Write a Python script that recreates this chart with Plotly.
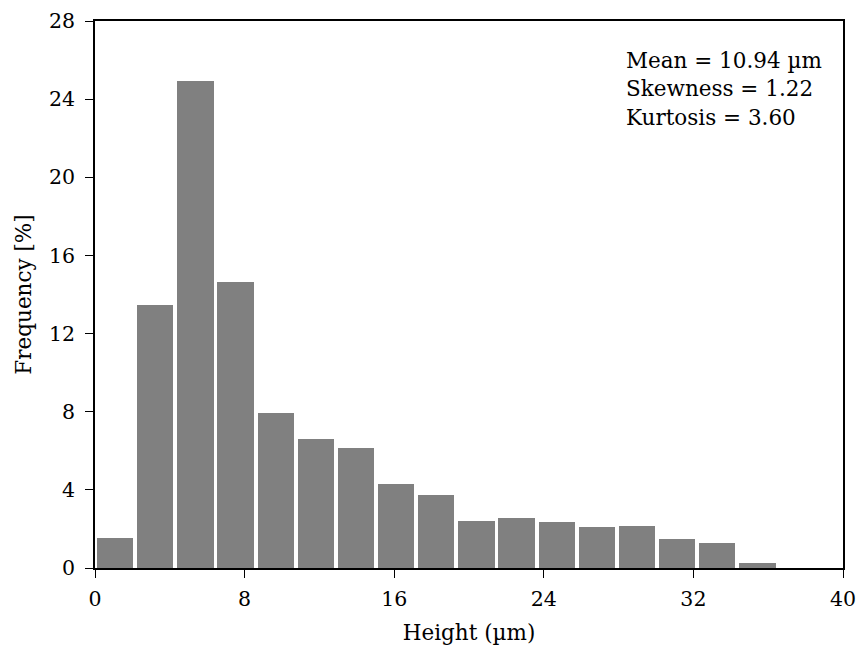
import numpy as np
import plotly.graph_objects as go

# Histogram definition (17 bins)
bin_min = 0.0
bin_max = 36.5
n_bins = 17
frequency = [1.56, 13.46, 24.92, 14.63, 7.94, 6.61, 6.15, 4.32, 3.75,
             2.43, 2.58, 2.37, 2.12, 2.17, 1.51, 1.30, 0.28]
x_ticks = [0, 8, 16, 24, 32, 40]
y_ticks = [0, 4, 8, 12, 16, 20, 24, 28]
stats_lines = ["Mean = 10.94 µm", "Skewness = 1.22", "Kurtosis = 3.60"]

edges = np.linspace(bin_min, bin_max, n_bins + 1)
centers = (edges[:-1] + edges[1:]) / 2
bw = edges[1] - edges[0]

FONT = "DejaVu Serif"
TICK_SIZE = 20.5
TEXT_SIZE = 21.5

fig = go.Figure()
fig.add_trace(go.Bar(x=centers, y=frequency, width=bw * 0.905,
                     marker=dict(color="#808080", line=dict(width=0)),
                     showlegend=False))

axis_common = dict(showline=True, linecolor="black", linewidth=1.6, mirror=True,
                   ticks="outside", ticklen=8, tickwidth=1.4, tickcolor="black",
                   showgrid=False, zeroline=False, automargin=False,
                   tickfont=dict(family=FONT, size=TICK_SIZE, color="black"))

fig.update_xaxes(range=[0, 40], tickvals=x_ticks, ticktext=[str(v) for v in x_ticks],
                 ticklabelstandoff=4,
                 title=dict(text="Height (µm)", font=dict(family=FONT, size=TEXT_SIZE, color="black"),
                            standoff=15),
                 **axis_common)
fig.update_yaxes(range=[0, 28], tickvals=y_ticks, ticktext=[str(v) for v in y_ticks],
                 ticklabelstandoff=6,
                 title=dict(text="Frequency [%]", font=dict(family=FONT, size=TEXT_SIZE, color="black"),
                            standoff=11),
                 **axis_common)

line_px = [60.5, 88.8, 117.1]
for txt, p in zip(stats_lines, line_px):
    fig.add_annotation(text=txt, xref="paper", yref="paper",
                       x=(624 - 95) / 748, y=(568.5 - p) / 547.5,
                       xanchor="left", yanchor="middle", showarrow=False,
                       font=dict(family=FONT, size=TEXT_SIZE, color="black"))

fig.update_layout(width=861, height=650,
                  margin=dict(l=95, r=18, t=21, b=81.5),
                  paper_bgcolor="white", plot_bgcolor="white",
                  bargap=0)

fig.write_html("out.html")
